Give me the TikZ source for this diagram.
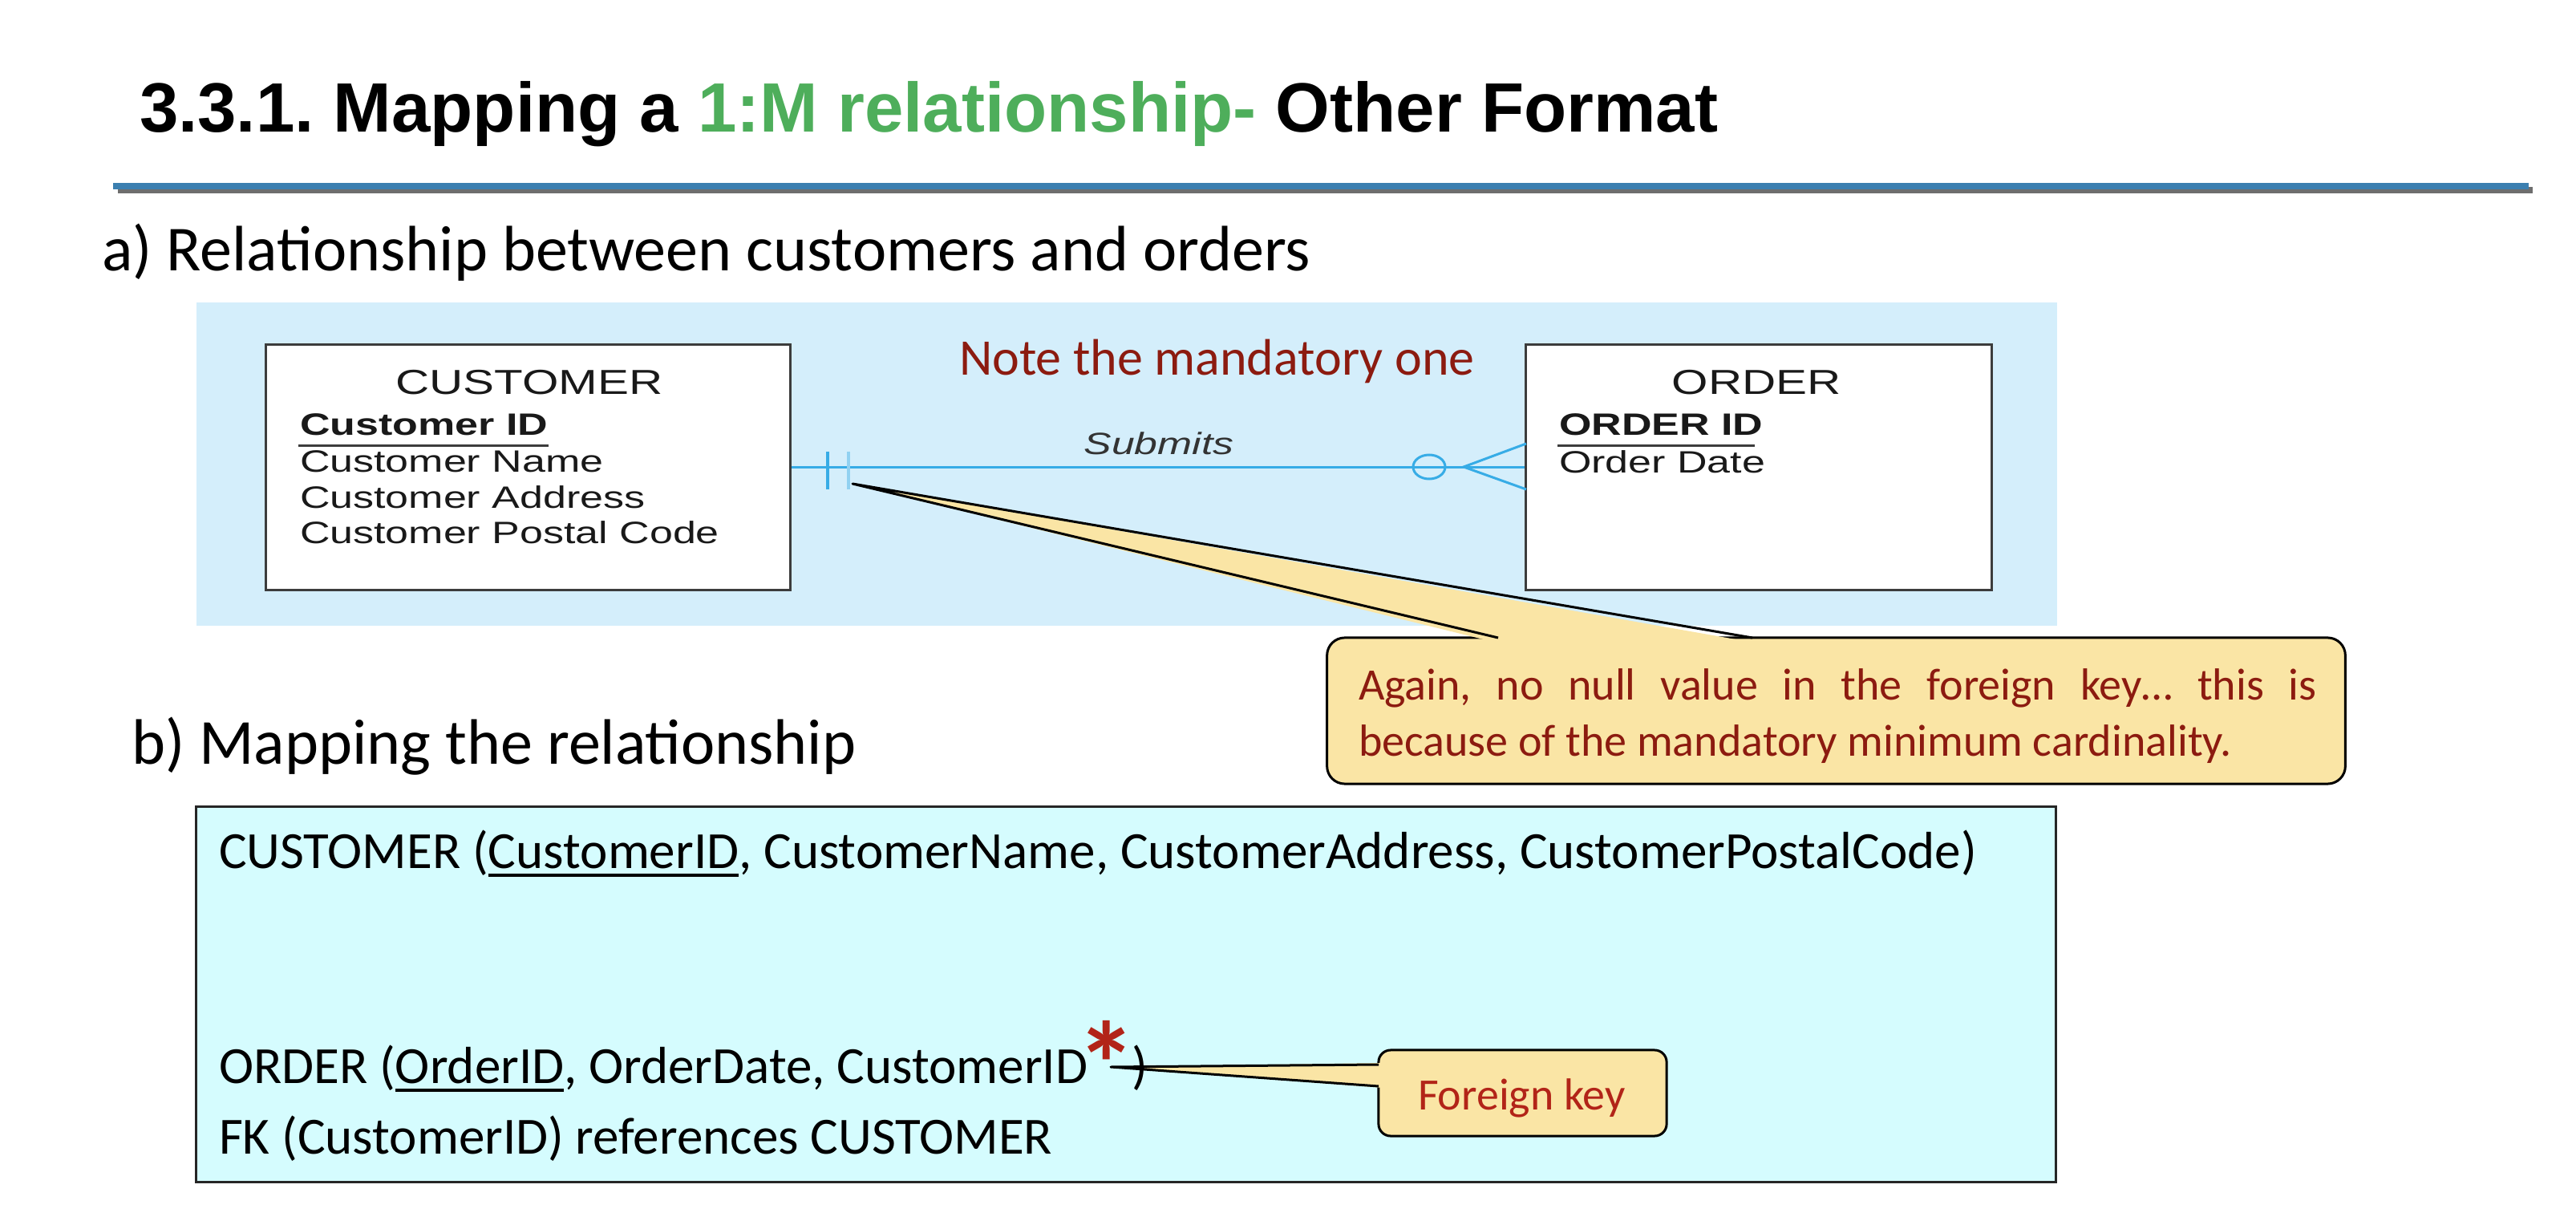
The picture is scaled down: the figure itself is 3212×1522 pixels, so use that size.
\documentclass[tikz,border=0pt]{standalone}
\usepackage{fontspec}
\setmainfont{Carlito}
\newfontfamily\titlefont{Liberation Sans}
\newfontfamily\erfont[FakeStretch=1.35]{Liberation Sans}
\usetikzlibrary{calc}
\definecolor{titlegreen}{RGB}{78,174,91}
\definecolor{rulebl}{RGB}{59,127,176}
\definecolor{rulegr}{RGB}{110,110,110}
\definecolor{erbg}{RGB}{212,238,251}
\definecolor{erline}{RGB}{55,172,230}
\definecolor{calfill}{RGB}{250,229,165}
\definecolor{darkred}{RGB}{140,27,16}
\definecolor{fkred}{RGB}{178,36,24}
\definecolor{mapbg}{RGB}{213,252,254}
\definecolor{boxgray}{RGB}{60,60,60}
\newcommand\myul[1]{\setbox0=\hbox{#1}\rlap{\rule[-0.105cm]{\wd0}{0.035cm}}\box0}
\frenchspacing
\tikzset{
  txt/.style={anchor=base west, inner sep=0pt, outer sep=0pt},
  erbox/.style={draw=boxgray, fill=white, line width=0.03cm, inner sep=0pt},
  erhead/.style={anchor=base, inner sep=0pt, font=\erfont\fontsize{12.3pt}{14pt}\selectfont, text=black!90},
  erattr/.style={txt, font=\erfont\fontsize{10.95pt}{12pt}\selectfont, text=black!90},
  erl/.style={draw=erline, line width=0.025cm},
  callbox/.style={draw=black, fill=calfill, line width=0.03cm, inner sep=0pt},
  heading/.style={txt, font=\fontsize{22.76pt}{27pt}\selectfont},
  maptext/.style={txt, font=\fontsize{18.5pt}{22pt}\selectfont},
}
\begin{document}
\begin{tikzpicture}[x=0.01cm, y=-0.01cm]
\useasboundingbox (0,0) rectangle (3212,1522);
% title
\node[txt, font=\titlefont\bfseries\fontsize{24.75pt}{30pt}\selectfont] (title) at (174,165)
  {3.3.1. Mapping a \textcolor{titlegreen}{1:M relationship-} Other Format};
% rule
\fill[rulegr] (147,233) rectangle (3158,241);
\fill[rulebl] (141,228) rectangle (3153,236);
% a)
\node[heading] (ha) at (127,338) {a) Relationship between customers and orders};
% ER background
\fill[erbg] (245,377) rectangle (2565,780);
% entity boxes
\node[erbox, minimum width=6.53cm, minimum height=3.05cm] (cust) at (658.5,582.5) {};
\node[erbox, minimum width=5.80cm, minimum height=3.05cm] (ord) at (2193,582.5) {};
\node[erhead] (custh) at (660,492) {CUSTOMER};
\node[erattr, font=\erfont\bfseries\fontsize{10.95pt}{12pt}\selectfont] (custid) at (374,543) {Customer ID};
\draw[boxgray, line width=0.03cm] (372,556) -- (684,556);
\node[erattr] (custn) at (374,589) {Customer Name};
\node[erattr] (custa) at (374,634) {Customer Address};
\node[erattr] (custp) at (374,678) {Customer Postal Code};
\node[erhead] (ordh) at (2190,492) {ORDER};
\node[erattr, font=\erfont\bfseries\fontsize{10.95pt}{12pt}\selectfont] (ordid) at (1944,543) {ORDER ID};
\draw[boxgray, line width=0.03cm] (1942,556) -- (2188,556);
\node[erattr] (ordd) at (1944,590) {Order Date};
% relationship
\draw[erl] (cust.east) -- (ord.west);
\node[anchor=base, inner sep=0pt, font=\erfont\itshape\fontsize{10.9pt}{12pt}\selectfont, text=black!80] (subm) at (1445,567) {Submits};
\draw[erl, line width=0.035cm] (1032,563) -- (1032,610);
\draw[draw=erline!55, line width=0.035cm] (1058,563) -- (1058,610);
\draw[erl, line width=0.03cm] (1782,582) ellipse [x radius=0.2cm, y radius=0.15cm];
\coordinate (crow) at (1825,582);
\draw[erl, line width=0.03cm] (1903,553) -- (crow) -- (1903,610);
% note
\node[txt, font=\fontsize{18.2pt}{22pt}\selectfont, text=darkred] (note) at (1196,468) {Note the mandatory one};
% callout 1
\node[callbox, rounded corners=0.22cm, minimum width=12.69cm, minimum height=1.82cm] (c1) at (2289.5,886) {};
\coordinate (tip1) at (1063,603);
\coordinate (c1a) at (1868,795);
\coordinate (c1b) at (2185,795);
\fill[calfill] (1866,801) -- (tip1) -- (2187,801) -- cycle;
\draw[black, line width=0.03cm, line join=round] (c1a) -- (tip1) -- (c1b);
\node[txt, font=\fontsize{15.93pt}{19.9pt}\selectfont, text=darkred] (c1l1) at (1694,872)
  {\makebox[11.94cm][s]{Again, no null value in the foreign key… this is}};
\node[txt, font=\fontsize{15.93pt}{19.9pt}\selectfont, text=darkred] (c1l2) at (1694,942)
  {because of the mandatory minimum cardinality.};
% b)
\node[heading] (hb) at (164,952) {b) Mapping the relationship};
% mapping box
\node[draw=black!85, fill=mapbg, line width=0.03cm, minimum width=23.18cm, minimum height=4.67cm, inner sep=0pt] (map) at (1404,1239.5) {};
\node[maptext] (m1) at (273,1082) {CUSTOMER (\myul{CustomerID}, CustomerName, CustomerAddress, CustomerPostalCode)};
\node[maptext] (m2) at (273,1350) {ORDER (\myul{OrderID}, OrderDate, CustomerID};
\node[txt, font=\bfseries\fontsize{42.6pt}{45pt}\selectfont, text=fkred] (ast) at (1342,1379) {*};
\node[maptext] (m2p) at (1411,1350) {)};
\node[maptext] (m3) at (273,1438) {FK (CustomerID) references CUSTOMER};
% callout 2
\node[callbox, rounded corners=0.15cm, minimum width=3.59cm, minimum height=1.07cm] (c2) at (1898.5,1362.5) {};
\coordinate (tip2) at (1385,1330);
\coordinate (c2a) at (1719,1327);
\coordinate (c2b) at (1719,1354);
\fill[calfill] (1725,1325) -- (tip2) -- (1725,1356) -- cycle;
\draw[black, line width=0.03cm, line join=round] (c2a) -- (tip2) -- (c2b);
\node[txt, font=\fontsize{15.9pt}{19pt}\selectfont, text=fkred] (fk) at (1768,1383) {Foreign key};
\end{tikzpicture}
\end{document}
